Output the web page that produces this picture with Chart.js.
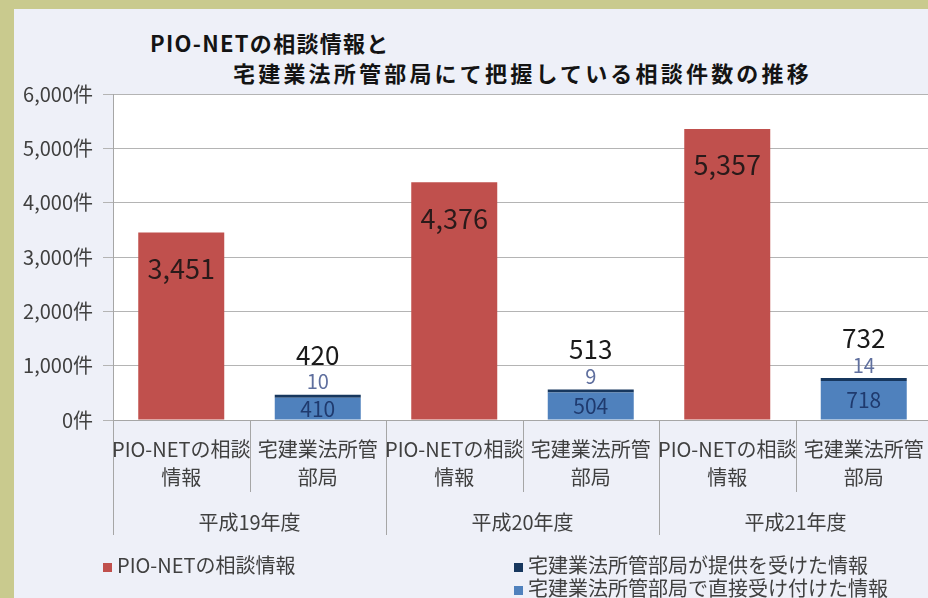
<!DOCTYPE html>
<html lang="ja">
<head>
<meta charset="utf-8">
<title>PIO-NETの相談情報と宅建業法所管部局にて把握している相談件数の推移</title>
<script src="https://cdn.jsdelivr.net/npm/chart.js@4.4.0/dist/chart.umd.min.js"></script>
<style>
  html, body { margin: 0; padding: 0; width: 928px; height: 598px; overflow: hidden; background: #c9ca8e; }
  #panel { position: absolute; left: 14px; top: 9px; width: 918px; height: 589px; background: #eef0f8; }
  #chart { position: absolute; left: 0; top: 0; }
  .title { position: absolute; font-family: "Noto Sans CJK JP", sans-serif; font-weight: bold;
           font-size: 22px; line-height: 22px; color: #141414; white-space: nowrap; }
  .legend-item { position: absolute; font-family: "Noto Sans CJK JP", sans-serif; font-size: 20px;
                 line-height: 24px; color: #404040; white-space: nowrap; }
  .legend-item span.box { display: inline-block; width: 9px; height: 9px; margin-right: 5px; vertical-align: 1px; }
</style>
</head>
<body>
<div id="panel">
  <div class="title" style="left:136px; top:22px; letter-spacing:1.3px;">PIO-NETの相談情報と</div>
  <div class="title" style="left:219px; top:52px; letter-spacing:3.2px;">宅建業法所管部局にて把握している相談件数の推移</div>
  <canvas id="chart" width="918" height="589"></canvas>
  <div id="legend"></div>
</div>
<script>
const years = ['平成19年度', '平成20年度', '平成21年度'];
const barNames = [['PIO-NETの相談', '情報'], ['宅建業法所管', '部局']];
const pioNet = [3451, 4376, 5357];
const provided = [10, 9, 14];     // 宅建業法所管部局が提供を受けた情報
const direct = [410, 504, 718];   // 宅建業法所管部局で直接受け付けた情報

const fmt = v => v.toLocaleString('en-US');
const FONT = '"Noto Sans CJK JP", sans-serif';

// white plot area
const plotBg = {
    id: 'plotBg',
    beforeDraw(chart) {
        const {ctx, chartArea: a} = chart;
        ctx.save();
        ctx.fillStyle = '#ffffff';
        ctx.fillRect(a.left, a.top, a.width, a.height);
        ctx.restore();
    }
};

// category / year separators under the x axis
const separators = {
    id: 'separators',
    afterDraw(chart) {
        const {ctx, chartArea: a} = chart;
        const x = chart.scales.x;
        const step = x.getPixelForValue(1) - x.getPixelForValue(0);
        ctx.save();
        ctx.strokeStyle = '#a6a6a6';
        ctx.lineWidth = 1;
        for (let i = 0; i <= x.ticks.length; i++) {
            const px = Math.round(x.getPixelForValue(0) - step / 2 + i * step) + 0.5;
            const len = i % 2 === 0 ? 115 : 72;
            ctx.beginPath();
            ctx.moveTo(px, a.bottom);
            ctx.lineTo(px, a.bottom + len);
            ctx.stroke();
        }
        ctx.restore();
    }
};

// data labels
const valueLabels = {
    id: 'valueLabels',
    afterDatasetsDraw(chart) {
        const ctx = chart.ctx;
        const red = chart.getDatasetMeta(0).data;
        const blue = chart.getDatasetMeta(1).data;
        const navy = chart.getDatasetMeta(2).data;
        ctx.save();
        ctx.textAlign = 'center';
        ctx.textBaseline = 'middle';
        pioNet.forEach((v, i) => {
            const bar = red[i * 2];
            ctx.font = '27px ' + FONT;
            ctx.fillStyle = '#2a1a1a';
            ctx.fillText(fmt(v), bar.x, bar.y + 36);
        });
        direct.forEach((v, i) => {
            const b = blue[i * 2 + 1];
            const n = navy[i * 2 + 1];
            ctx.font = '21px ' + FONT;
            ctx.fillStyle = '#1f3a6e';
            ctx.fillText(fmt(v), b.x, (b.y + b.base) / 2);
            ctx.font = '20px ' + FONT;
            ctx.fillStyle = '#5f6f9e';
            ctx.fillText(fmt(provided[i]), n.x, n.y - 13);
            ctx.font = '26px ' + FONT;
            ctx.fillStyle = '#1a1a1a';
            ctx.fillText(fmt(v + provided[i]), n.x, n.y - 40);
        });
        ctx.restore();
    }
};

const chart = new Chart(document.getElementById('chart'), {
    type: 'bar',
    data: {
        labels: years.flatMap(() => barNames),
        datasets: [
            {label: 'PIO-NETの相談情報', data: pioNet.flatMap(v => [v, null]), backgroundColor: '#c0504d'},
            {label: '宅建業法所管部局で直接受け付けた情報', data: direct.flatMap(v => [null, v]), backgroundColor: '#4f81bd'},
            {label: '宅建業法所管部局が提供を受けた情報', data: provided.flatMap(v => [null, v]), backgroundColor: '#17375e', minBarLength: 3}
        ]
    },
    options: {
        responsive: false,
        animation: false,
        layout: {padding: {top: 85, bottom: 60, left: 0, right: 0}},
        datasets: {bar: {barPercentage: 0.63, categoryPercentage: 1}},
        plugins: {legend: {display: false}, tooltip: {enabled: false}},
        scales: {
            y: {
                stacked: true,
                min: 0,
                max: 6000,
                ticks: {stepSize: 1000, padding: 10, color: '#404040', font: {family: FONT, size: 20},
                        callback: v => fmt(v) + '件'},
                grid: {color: '#b4b4b4', tickLength: 10},
                border: {color: '#a6a6a6'},
                afterFit: s => { s.width = 99; }
            },
            x: {
                stacked: true,
                offset: true,
                weight: 0,
                ticks: {maxRotation: 0, minRotation: 0, autoSkip: false, padding: 7, color: '#404040',
                        font: {family: FONT, size: 20, lineHeight: 1.4}},
                grid: {display: false},
                border: {display: true, color: '#a6a6a6'},
                afterFit: s => { s.height = 78; }
            },
            x2: {
                type: 'category',
                position: 'bottom',
                labels: years,
                offset: true,
                weight: 1,
                ticks: {padding: 4, color: '#404040', font: {family: FONT, size: 20}},
                grid: {display: false},
                border: {display: false},
                afterFit: s => { s.height = 40; }
            }
        }
    },
    plugins: [plotBg, separators, valueLabels]
});

// legend laid out like the original (one item left, two stacked on the right)
const legendPlaces = [
    {ds: 0, left: 89, top: 544},
    {ds: 2, left: 500, top: 544},
    {ds: 1, left: 500, top: 567}
];
const legend = document.getElementById('legend');
legendPlaces.forEach(p => {
    const d = chart.data.datasets[p.ds];
    const item = document.createElement('div');
    item.className = 'legend-item';
    item.style.left = p.left + 'px';
    item.style.top = p.top + 'px';
    const box = document.createElement('span');
    box.className = 'box';
    box.style.background = d.backgroundColor;
    item.appendChild(box);
    item.appendChild(document.createTextNode(d.label));
    legend.appendChild(item);
});
</script>
</body>
</html>
